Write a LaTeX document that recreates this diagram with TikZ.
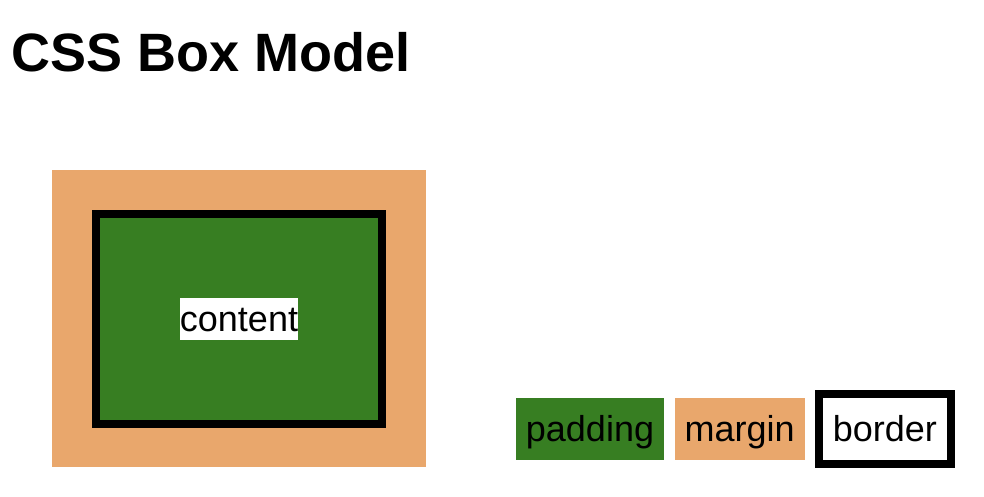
\documentclass[tikz,border=0pt]{standalone}
\usepackage{fontspec}
\setmainfont{Liberation Sans}
\usetikzlibrary{positioning}
\definecolor{padgreen}{RGB}{55,126,34}
\definecolor{margorange}{RGB}{233,167,108}
\begin{document}
\begin{tikzpicture}[x=0.75pt,y=-0.75pt,
  label/.style={font=\fontsize{27}{31}\selectfont,inner sep=0pt,text height=24.9pt,text depth=6.2pt},
  legend/.style={label,inner xsep=7.5pt,minimum height=46.5pt}]
\useasboundingbox (0,0) rectangle (984,496);
\node[anchor=base west,inner sep=0pt,font=\bfseries\fontsize{40.5}{48}\selectfont] (title) at (11.5,71) {CSS Box Model};
% the box
\fill[margorange] (52,170) rectangle (426,467);
\draw[line width=6pt,fill=padgreen] (96,214) rectangle (382,424);
\node[label,fill=white] (content) at (239,319) {content};
% legend
\node[legend,fill=padgreen] (padding) at (590,429) {padding};
\node[legend,fill=margorange,right=7.5pt of padding] (margin) {margin};
\node[legend,draw,line width=6pt,minimum height=52.5pt,inner xsep=10.5pt,right=7.5pt of margin] (border) {border};
\end{tikzpicture}
\end{document}
